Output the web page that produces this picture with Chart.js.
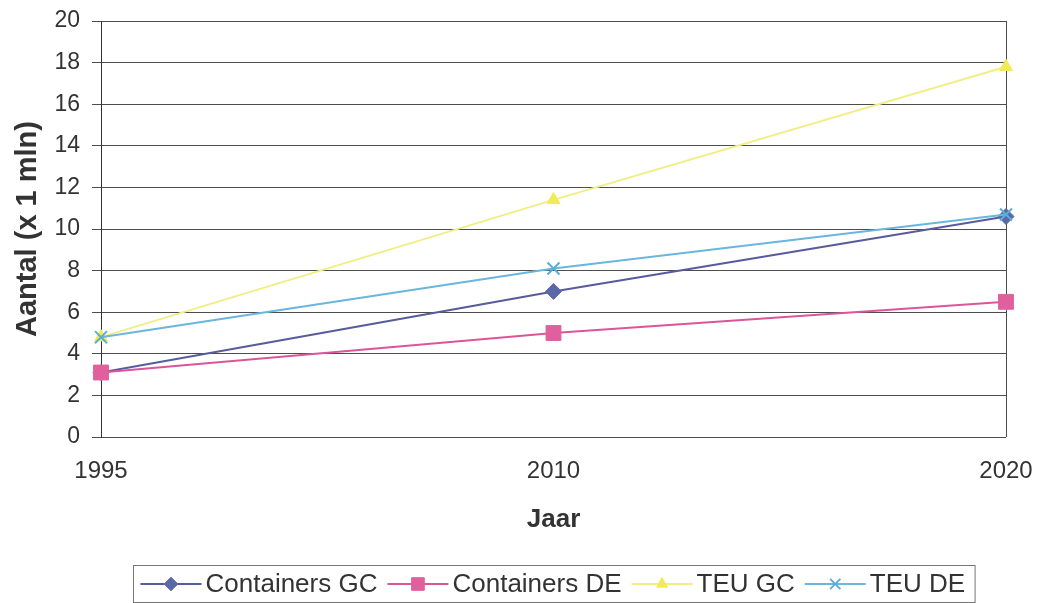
<!DOCTYPE html>
<html>
<head>
<meta charset="utf-8">
<script src="https://cdn.jsdelivr.net/npm/chart.js@4/dist/chart.umd.min.js"></script>
<style>
  html, body { margin: 0; padding: 0; background: #fff; }
  #wrap { width: 1038px; height: 603px; }
</style>
</head>
<body>
<div id="wrap"><canvas id="c" width="1038" height="603"></canvas></div>
<script>
// Years on the horizontal axis
const years = ['1995', '2010', '2020'];

// Number of containers / TEU, in millions
const containersGC = [3.1, 7.0, 10.6];
const containersDE = [3.1, 5.0, 6.5];
const teuGC = [4.8, 11.4, 17.8];
const teuDE = [4.8, 8.1, 10.7];

const seriesNames = ['Containers GC', 'Containers DE', 'TEU GC', 'TEU DE'];
const yMin = 0;
const yMax = 20;
const yStep = 2;

const FONT = "'Liberation Sans', Arial, sans-serif";
const TEXT = '#333333';
const GRID = '#4d4d4d';

const styles = [
  { line: '#585b9c', fill: '#5a68a6', point: 'rectRot', radius: 8 },
  { line: '#dd5599', fill: '#e0609e', point: 'rect', radius: 10.5 },
  { line: '#f2ee86', fill: '#f3ea58', point: 'triangle', radius: 7.5 },
  { line: '#6ab6de', fill: '#5aaed8', point: 'crossRot', radius: 8.5 }
];

const seriesValues = [containersGC, containersDE, teuGC, teuDE];

const datasets = seriesValues.map((vals, i) => ({
  label: seriesNames[i],
  data: vals,
  borderColor: styles[i].line,
  backgroundColor: styles[i].fill,
  borderWidth: 2,
  pointStyle: styles[i].point,
  pointRadius: styles[i].radius,
  pointHoverRadius: styles[i].radius,
  pointBackgroundColor: styles[i].fill,
  pointBorderColor: styles[i].fill,
  pointBorderWidth: styles[i].point === 'crossRot' ? 2 : 1,
  tension: 0,
  order: seriesValues.length - i
}));

// Boxed legend under the chart: short line with the series marker, then the name
const boxedLegend = {
  id: 'boxedLegend',
  afterDraw(chart) {
    const ctx = chart.ctx;
    const area = chart.chartArea;
    const fontSize = 26;
    const sample = 61;
    const gapText = 4;
    const gapItem = 10;
    const padL = 7, padR = 10;
    ctx.save();
    ctx.font = fontSize + 'px ' + FONT;
    const items = chart.data.datasets.map(ds => ({ ds, w: ctx.measureText(ds.label).width }));
    let total = padL + padR;
    items.forEach((it, i) => { total += sample + gapText + it.w + (i < items.length - 1 ? gapItem : 0); });
    const cx = (area.left + area.right) / 2;
    const left = Math.round(cx - total / 2) + 0.5;
    const top = 565.5;
    const bottom = 602.5;
    ctx.strokeStyle = '#777';
    ctx.lineWidth = 1;
    ctx.strokeRect(left, top, total, bottom - top);
    const cy = 584;
    let x = left + padL;
    items.forEach(it => {
      const ds = it.ds;
      ctx.strokeStyle = ds.borderColor;
      ctx.lineWidth = 2;
      ctx.beginPath();
      ctx.moveTo(x, cy);
      ctx.lineTo(x + sample, cy);
      ctx.stroke();
      ctx.fillStyle = ds.pointBackgroundColor;
      ctx.strokeStyle = ds.pointBorderColor;
      ctx.lineWidth = ds.pointBorderWidth;
      Chart.helpers.drawPoint(ctx, {
        pointStyle: ds.pointStyle,
        radius: ds.pointRadius * 0.85,
        rotation: 0,
        borderWidth: ds.pointBorderWidth
      }, x + sample / 2, cy);
      ctx.fillStyle = TEXT;
      ctx.textBaseline = 'middle';
      ctx.textAlign = 'left';
      ctx.fillText(ds.label, x + sample + gapText, cy + 1);
      x += sample + gapText + it.w + gapItem;
    });
    ctx.restore();
  }
};

new Chart(document.getElementById('c'), {
  type: 'line',
  data: { labels: years, datasets },
  options: {
    responsive: false,
    animation: false,
    devicePixelRatio: 1,
    layout: { padding: { top: 21, right: 32, bottom: 66, left: 0 } },
    plugins: {
      legend: { display: false },
      tooltip: { enabled: false }
    },
    scales: {
      x: {
        type: 'category',
        offset: false,
        grid: {
          color: c => (c.index === years.length - 1 ? GRID : 'rgba(0,0,0,0)'),
          lineWidth: 1,
          drawTicks: false
        },
        border: { display: false },
        ticks: {
          font: { family: FONT, size: 24 },
          color: TEXT,
          padding: 20,
          maxRotation: 0,
          autoSkip: false
        },
        title: {
          display: true,
          text: 'Jaar',
          color: TEXT,
          font: { family: FONT, size: 26, weight: 'bold' },
          padding: { top: 0, bottom: 2 }
        },
        afterFit: s => {
          s.height = 100;
          s.paddingLeft = 0;
          s.paddingRight = 0;
        }
      },
      y: {
        min: yMin,
        max: yMax,
        ticks: {
          stepSize: yStep,
          font: { family: FONT, size: 23 },
          color: TEXT,
          padding: 12
        },
        grid: { color: GRID, lineWidth: 1, tickLength: 9 },
        border: { display: true, color: '#333', width: 1 },
        title: {
          display: true,
          text: 'Aantal (x 1 mln)',
          color: TEXT,
          font: { family: FONT, size: 29, weight: 'bold' },
          padding: { top: 11, bottom: 0 }
        },
        afterFit: s => {
          s.width = 101;
          s.paddingTop = 0;
          s.paddingBottom = 0;
        }
      }
    }
  },
  plugins: [boxedLegend]
});
</script>
</body>
</html>
